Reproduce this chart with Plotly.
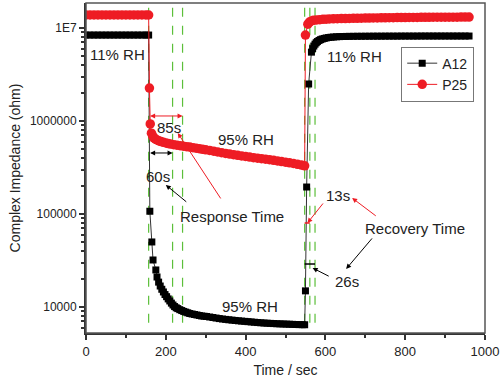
import math
import plotly.graph_objects as go

# ---------------- data ----------------
a12_t_dry1 = [0, 10, 20, 30, 40, 50, 60, 70, 80, 90, 100, 110, 120, 130, 140, 150, 157]
a12_v_dry1 = [8.4e6, 8.4e6, 8.4e6, 8.4e6, 8.4e6, 8.4e6, 8.4e6, 8.4e6, 8.4e6, 8.4e6,
              8.4e6, 8.4e6, 8.4e6, 8.4e6, 8.4e6, 8.4e6, 8.4e6]
a12_t_wet = [160, 165, 168, 175, 178, 182, 186, 190, 194, 198, 202, 206, 210, 214, 218,
             222, 226, 230, 235, 240, 245, 250, 255, 260, 266, 272, 278, 284, 290, 296,
             302, 310, 318, 326, 334, 342, 350, 358, 366, 374, 382, 390, 398, 406, 414,
             422, 430, 438, 446, 454, 462, 470, 478, 486, 494, 502, 510, 518, 526, 534,
             542, 548]
a12_v_wet = [1.07e5, 5.0e4, 3.2e4, 2.5e4, 2.1e4, 1.85e4, 1.68e4, 1.55e4, 1.45e4, 1.36e4,
             1.29e4, 1.22e4, 1.16e4, 1.10e4, 1.05e4, 1.01e4, 9.8e3, 9.6e3, 9.35e3, 9.15e3,
             8.95e3, 8.8e3, 8.65e3, 8.5e3, 8.4e3, 8.3e3, 8.2e3, 8.1e3, 8.0e3, 7.95e3,
             7.9e3, 7.8e3, 7.7e3, 7.6e3, 7.5e3, 7.42e3, 7.35e3, 7.28e3, 7.22e3, 7.16e3,
             7.1e3, 7.05e3, 7.0e3, 6.95e3, 6.9e3, 6.85e3, 6.8e3, 6.76e3, 6.72e3, 6.69e3,
             6.66e3, 6.63e3, 6.6e3, 6.58e3, 6.56e3, 6.54e3, 6.52e3, 6.5e3, 6.48e3, 6.46e3,
             6.45e3, 6.44e3]
a12_t_dry2 = [550, 553, 558, 565, 568, 571, 574, 577, 580, 584, 588, 592, 597, 602, 608,
              614, 620, 628, 636, 644, 652, 660, 670, 680, 690, 700, 710, 720, 730, 740,
              750, 760, 770, 780, 790, 800, 810, 820, 830, 840, 850, 860, 870, 880, 890,
              900, 910, 920, 930, 940, 950, 960]
a12_v_dry2 = [1.49e4, 1.95e5, 2.5e6, 5.5e6, 6.0e6, 6.4e6, 6.7e6, 6.95e6, 7.15e6, 7.35e6,
              7.5e6, 7.62e6, 7.72e6, 7.82e6, 7.9e6, 7.96e6, 8.0e6, 8.05e6, 8.08e6, 8.1e6,
              8.12e6, 8.13e6, 8.14e6, 8.15e6, 8.15e6, 8.16e6, 8.16e6, 8.17e6, 8.17e6, 8.17e6,
              8.18e6, 8.18e6, 8.18e6, 8.18e6, 8.19e6, 8.19e6, 8.19e6, 8.19e6, 8.19e6, 8.2e6,
              8.2e6, 8.2e6, 8.2e6, 8.2e6, 8.2e6, 8.2e6, 8.2e6, 8.2e6, 8.2e6, 8.2e6,
              8.2e6, 8.2e6]

p25_t_dry1 = [0, 10, 20, 30, 40, 50, 60, 70, 80, 90, 100, 110, 120, 130, 140, 150, 157]
p25_v_dry1 = [1.38e7, 1.38e7, 1.38e7, 1.38e7, 1.38e7, 1.38e7, 1.38e7, 1.38e7, 1.38e7,
              1.38e7, 1.38e7, 1.38e7, 1.38e7, 1.38e7, 1.38e7, 1.38e7, 1.38e7]
p25_t_wet = [159, 161, 164, 167, 170, 174, 178, 183, 188, 194, 200, 206, 212, 220, 228,
             236, 244, 252, 260, 268, 276, 284, 292, 300, 310, 320, 330, 340, 350, 360,
             370, 380, 390, 400, 410, 420, 430, 440, 450, 460, 470, 480, 490, 500, 510,
             520, 530, 540, 548]
p25_v_wet = [2.26e6, 9.3e5, 7.4e5, 6.9e5, 6.6e5, 6.4e5, 6.25e5, 6.1e5, 6.0e5, 5.9e5,
             5.8e5, 5.72e5, 5.65e5, 5.57e5, 5.5e5, 5.43e5, 5.36e5, 5.3e5, 5.24e5, 5.17e5,
             5.1e5, 5.03e5, 4.96e5, 4.9e5, 4.82e5, 4.73e5, 4.64e5, 4.56e5, 4.48e5, 4.41e5,
             4.34e5, 4.27e5, 4.21e5, 4.15e5, 4.09e5, 4.03e5, 3.98e5, 3.93e5, 3.88e5, 3.83e5,
             3.78e5, 3.72e5, 3.66e5, 3.6e5, 3.55e5, 3.49e5, 3.42e5, 3.36e5, 3.3e5]
p25_t_dry2 = [550, 556, 560, 565, 570, 578, 586, 594, 602, 610, 620, 630, 640, 650, 660,
              670, 680, 690, 700, 710, 720, 730, 740, 750, 760, 770, 780, 790, 800, 810,
              820, 830, 840, 850, 860, 870, 880, 890, 900, 910, 920, 930, 940, 950, 960]
p25_v_dry2 = [8.4e6, 1.1e7, 1.16e7, 1.19e7, 1.21e7, 1.22e7, 1.23e7, 1.24e7, 1.245e7, 1.25e7,
              1.255e7, 1.26e7, 1.262e7, 1.265e7, 1.268e7, 1.27e7, 1.272e7, 1.275e7, 1.278e7,
              1.28e7, 1.282e7, 1.284e7, 1.286e7, 1.288e7, 1.29e7, 1.292e7, 1.294e7, 1.295e7,
              1.296e7, 1.298e7, 1.3e7, 1.3e7, 1.302e7, 1.303e7, 1.304e7, 1.305e7, 1.306e7,
              1.307e7, 1.308e7, 1.308e7, 1.309e7, 1.309e7, 1.31e7, 1.31e7, 1.31e7]

a12_t = a12_t_dry1 + a12_t_wet + a12_t_dry2
a12_v = a12_v_dry1 + a12_v_wet + a12_v_dry2
p25_t = p25_t_dry1 + p25_t_wet + p25_t_dry2
p25_v = p25_v_dry1 + p25_v_wet + p25_v_dry2

guide_times = [157, 217, 242, 548, 561, 574]   # response / recovery markers (s)
guide_span = [1.65e7, 6.2e3]

y_tickvals = [1e4, 1e5, 1e6, 1e7]
y_ticktext = ["10000", "100000", "1000000", "1E7"]
x_tickvals = [0, 200, 400, 600, 800, 1000]

RED = "#ee1c24"
GREEN = "#5cbf3a"
DARK = "#222222"

fig = go.Figure()

for gt in guide_times:
    fig.add_trace(go.Scatter(x=[gt, gt], y=guide_span, mode="lines",
                             line=dict(color=GREEN, width=1.2, dash="dash"),
                             showlegend=False, hoverinfo="skip"))

fig.add_trace(go.Scatter(x=a12_t, y=a12_v, mode="lines+markers", name="A12",
                         line=dict(color="#333333", width=1),
                         marker=dict(symbol="square", size=7, color="black")))
fig.add_trace(go.Scatter(x=p25_t, y=p25_v, mode="lines+markers", name="P25",
                         line=dict(color=RED, width=1),
                         marker=dict(symbol="circle", size=9.5, color=RED)))

# small tick marks for recovery times
fig.add_trace(go.Scatter(x=[548, 561], y=[10**4.903, 10**4.903], mode="lines",
                         line=dict(color=RED, width=1.5), showlegend=False, hoverinfo="skip"))
fig.add_trace(go.Scatter(x=[548, 574], y=[10**4.462, 10**4.462], mode="lines",
                         line=dict(color="black", width=1.5), showlegend=False, hoverinfo="skip"))

txt_font = dict(family="Liberation Sans, Arial, sans-serif", size=15, color=DARK)
labels = [
    ("11% RH", 80, 6.71), ("11% RH", 672, 6.69),
    ("95% RH", 402, 5.806), ("95% RH", 410, 4.0),
    ("85s", 207, 5.935), ("60s", 180, 5.398),
    ("Response Time", 365, 4.968), ("13s", 632, 5.194),
    ("Recovery Time", 825, 4.849), ("26s", 655, 4.269),
]
for text, x, ly in labels:
    fig.add_annotation(x=x, y=ly, text=text, showarrow=False, font=txt_font,
                       xref="x", yref="y")

# arrows: (head x, head log y, tail x, tail log y, colour, both ends)
arrows = [
    (242, 6.054, 157, 6.054, RED, True),
    (217, 5.656, 157, 5.656, "black", True),
    (230, 5.871, 340, 5.151, RED, False),
    (200, 5.312, 255, 5.118, "black", False),
    (667, 5.172, 730, 4.968, RED, False),
    (555, 4.903, 597, 5.129, RED, False),
    (652, 4.409, 720, 4.753, "black", False),
    (568, 4.419, 612, 4.323, "black", False),
]
for hx, hy, tx, ty, col, both in arrows:
    fig.add_annotation(x=hx, y=hy, ax=tx, ay=ty, xref="x", yref="y", axref="x", ayref="y",
                       text="", showarrow=True, arrowhead=2, arrowsize=1, arrowwidth=1,
                       arrowcolor=col, arrowside="end+start" if both else "end",
                       startarrowhead=2, startarrowsize=1)

# frame
fig.add_shape(type="rect", xref="paper", yref="paper", x0=0, y0=0, x1=1, y1=1,
              line=dict(color="#555555", width=1.5), layer="above")

fig.update_layout(
    width=500, height=380,
    margin=dict(l=86, r=15, t=3, b=47, autoexpand=False),
    paper_bgcolor="white", plot_bgcolor="white",
    font=dict(family="Liberation Sans, Arial, sans-serif", size=12, color=DARK),
    legend=dict(x=0.79, y=0.868, xanchor="left", yanchor="top",
                bordercolor="#777777", borderwidth=1, bgcolor="white",
                font=dict(size=14, color=DARK), tracegroupgap=0, itemwidth=30),
    showlegend=True,
)
fig.update_xaxes(range=[0, 1000], tickvals=x_tickvals, ticks="outside", ticklen=5,
                 tickwidth=1.5, tickcolor="#333333", showline=True, linecolor="#333333",
                 linewidth=2, showgrid=False, zeroline=False,
                 minor=dict(tickvals=[100, 300, 500, 700, 900], ticks="outside", ticklen=3,
                            tickcolor="#333333"),
                 tickfont=dict(size=13),
                 title=dict(text="Time / sec", font=dict(size=14), standoff=8))
fig.update_yaxes(type="log", range=[3.72, 7.269], tickvals=y_tickvals, ticktext=y_ticktext,
                 ticks="outside", ticklen=5, tickwidth=1.5, tickcolor="#333333",
                 showline=True, linecolor="#333333", linewidth=2, showgrid=False,
                 zeroline=False,
                 minor=dict(dtick="D1", ticks="outside", ticklen=3, tickcolor="#333333"),
                 tickfont=dict(size=12),
                 title=dict(text="Complex Impedance (ohm)", font=dict(size=14), standoff=6))

fig.write_html("out.html", config={"displayModeBar": False},
               post_script="document.body.style.margin='0px';document.body.style.overflow='hidden';")
